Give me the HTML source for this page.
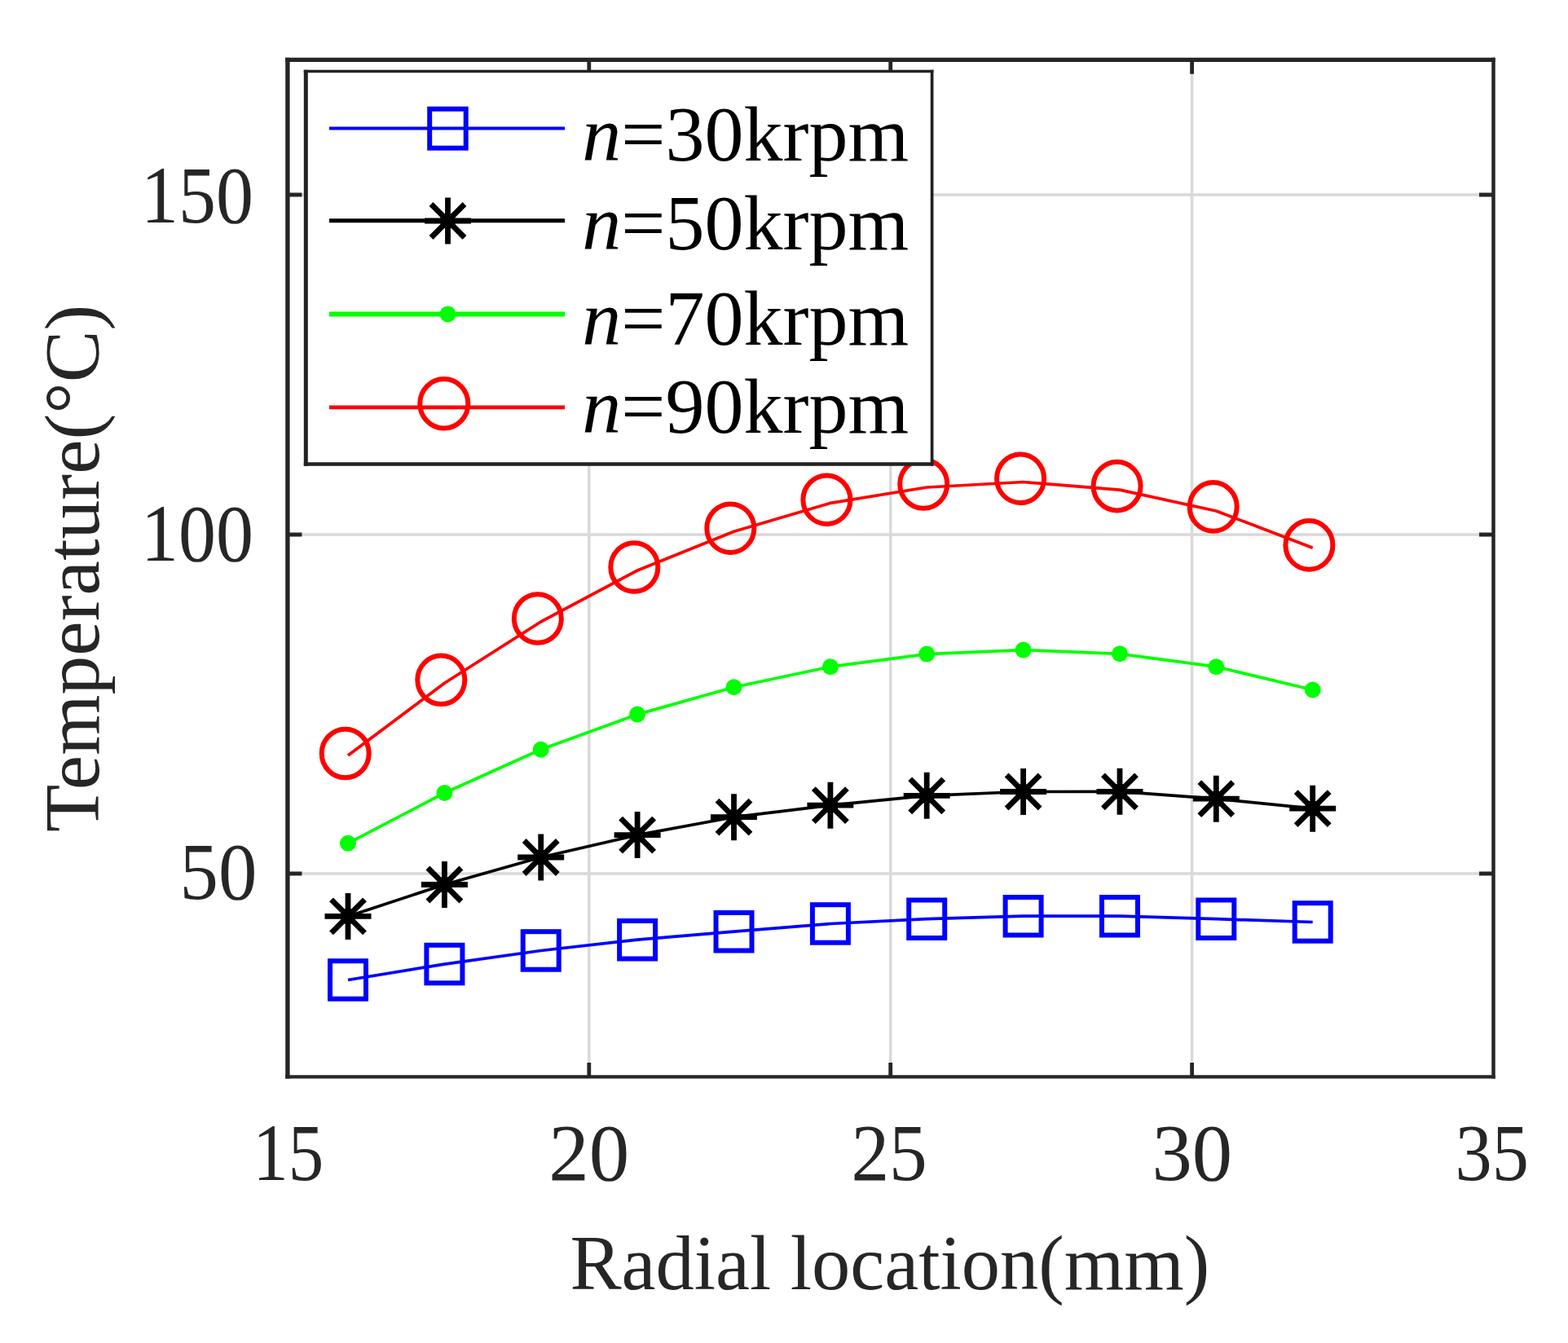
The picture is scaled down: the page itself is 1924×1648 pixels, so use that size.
<!DOCTYPE html>
<html><head><meta charset="utf-8"><title>Temperature vs Radial location</title><style>html,body{margin:0;padding:0;background:#fff;width:1924px;height:1648px;overflow:hidden}</style></head><body>
<svg width="1924" height="1648" viewBox="0 0 1924 1648" style="display:block">
<rect x="0" y="0" width="1924" height="1648" fill="#ffffff"/>
<path d="M722.8 73.3V1321.4 M1092.7 73.3V1321.4 M1462.6 73.3V1321.4 M352.9 1072.0H1832.5 M352.9 656.0H1832.5 M352.9 239.0H1832.5" stroke="#d9d9d9" stroke-width="3.5" fill="none"/>
<path d="M722.8 1321.4v-17.5M722.8 73.3v17.5 M1092.7 1321.4v-17.5M1092.7 73.3v17.5 M1462.6 1321.4v-17.5M1462.6 73.3v17.5 M352.9 1072.0h17.5M1832.5 1072.0h-17.5 M352.9 656.0h17.5M1832.5 656.0h-17.5 M352.9 239.0h17.5M1832.5 239.0h-17.5" stroke="#262626" stroke-width="4.8" fill="none"/>
<path d="M352.9 70.64999999999999V1323.6000000000001" stroke="#262626" stroke-width="5.4" fill="none"/>
<path d="M1832.5 70.64999999999999V1323.6000000000001" stroke="#262626" stroke-width="4.5" fill="none"/>
<path d="M350.2 73.3H1834.75" stroke="#262626" stroke-width="5.3" fill="none"/>
<path d="M350.2 1321.4H1834.75" stroke="#262626" stroke-width="4.4" fill="none"/>
<path d="M427.0 1202.5 L545.4 1183.1 L663.7 1166.5 L782.1 1153.2 L900.5 1143.2 L1018.9 1133.5 L1137.2 1127.7 L1255.6 1124.2 L1374.0 1124.2 L1492.3 1127.7 L1610.7 1131.5" stroke="#0000ff" stroke-width="3.7" fill="none" stroke-linejoin="round"/>
<path d="M427.0 1124.4 L545.4 1085.5 L663.7 1052.0 L782.1 1024.6 L900.5 1002.7 L1018.9 988.2 L1137.2 976.3 L1255.6 971.5 L1374.0 971.3 L1492.3 980.2 L1610.7 992.2" stroke="#000000" stroke-width="3.7" fill="none" stroke-linejoin="round"/>
<path d="M427.0 1034.8 L545.4 973.0 L663.7 919.8 L782.1 876.6 L900.5 843.3 L1018.9 818.2 L1137.2 802.6 L1255.6 797.6 L1374.0 802.3 L1492.3 818.2 L1610.7 846.5" stroke="#00ff00" stroke-width="3.7" fill="none" stroke-linejoin="round"/>
<path d="M427.0 927.0 L545.4 838.3 L663.7 763.0 L782.1 700.0 L900.5 652.2 L1018.9 617.3 L1137.2 598.0 L1255.6 591.5 L1374.0 601.1 L1492.3 627.0 L1610.7 672.2" stroke="#ff0000" stroke-width="3.7" fill="none" stroke-linejoin="round"/>
<rect x="405.0" y="1179.2" width="44" height="46.5" stroke="#0000ff" stroke-width="6" fill="none"/>
<rect x="523.4" y="1159.8" width="44" height="46.5" stroke="#0000ff" stroke-width="6" fill="none"/>
<rect x="641.7" y="1143.2" width="44" height="46.5" stroke="#0000ff" stroke-width="6" fill="none"/>
<rect x="760.1" y="1130.0" width="44" height="46.5" stroke="#0000ff" stroke-width="6" fill="none"/>
<rect x="878.5" y="1120.0" width="44" height="46.5" stroke="#0000ff" stroke-width="6" fill="none"/>
<rect x="996.9" y="1110.2" width="44" height="46.5" stroke="#0000ff" stroke-width="6" fill="none"/>
<rect x="1115.2" y="1104.5" width="44" height="46.5" stroke="#0000ff" stroke-width="6" fill="none"/>
<rect x="1233.6" y="1101.0" width="44" height="46.5" stroke="#0000ff" stroke-width="6" fill="none"/>
<rect x="1352.0" y="1101.0" width="44" height="46.5" stroke="#0000ff" stroke-width="6" fill="none"/>
<rect x="1470.3" y="1104.5" width="44" height="46.5" stroke="#0000ff" stroke-width="6" fill="none"/>
<rect x="1588.7" y="1108.2" width="44" height="46.5" stroke="#0000ff" stroke-width="6" fill="none"/>
<path d="M427.0 1095.9V1152.9M398.5 1124.4H455.5M406.5 1103.9L447.5 1144.9M406.5 1144.9L447.5 1103.9" stroke="#000" stroke-width="6.8" fill="none"/><rect x="418.0" y="1115.4" width="18" height="18" fill="#000"/>
<path d="M545.4 1057.0V1114.0M516.9 1085.5H573.9M524.9 1065.0L565.9 1106.0M524.9 1106.0L565.9 1065.0" stroke="#000" stroke-width="6.8" fill="none"/><rect x="536.4" y="1076.5" width="18" height="18" fill="#000"/>
<path d="M663.7 1023.5V1080.5M635.2 1052.0H692.2M643.2 1031.5L684.3 1072.5M643.2 1072.5L684.3 1031.5" stroke="#000" stroke-width="6.8" fill="none"/><rect x="654.7" y="1043.0" width="18" height="18" fill="#000"/>
<path d="M782.1 996.1V1053.1M753.6 1024.6H810.6M761.6 1004.1L802.6 1045.1M761.6 1045.1L802.6 1004.1" stroke="#000" stroke-width="6.8" fill="none"/><rect x="773.1" y="1015.6" width="18" height="18" fill="#000"/>
<path d="M900.5 974.2V1031.2M872.0 1002.7H929.0M880.0 982.2L921.0 1023.2M880.0 1023.2L921.0 982.2" stroke="#000" stroke-width="6.8" fill="none"/><rect x="891.5" y="993.7" width="18" height="18" fill="#000"/>
<path d="M1018.9 959.7V1016.7M990.4 988.2H1047.3M998.3 967.7L1039.4 1008.7M998.3 1008.7L1039.4 967.7" stroke="#000" stroke-width="6.8" fill="none"/><rect x="1009.9" y="979.2" width="18" height="18" fill="#000"/>
<path d="M1137.2 947.8V1004.8M1108.7 976.3H1165.7M1116.7 955.8L1157.7 996.8M1116.7 996.8L1157.7 955.8" stroke="#000" stroke-width="6.8" fill="none"/><rect x="1128.2" y="967.3" width="18" height="18" fill="#000"/>
<path d="M1255.6 943.0V1000.0M1227.1 971.5H1284.1M1235.1 951.0L1276.1 992.0M1235.1 992.0L1276.1 951.0" stroke="#000" stroke-width="6.8" fill="none"/><rect x="1246.6" y="962.5" width="18" height="18" fill="#000"/>
<path d="M1374.0 942.8V999.8M1345.5 971.3H1402.5M1353.4 950.8L1394.5 991.8M1353.4 991.8L1394.5 950.8" stroke="#000" stroke-width="6.8" fill="none"/><rect x="1365.0" y="962.3" width="18" height="18" fill="#000"/>
<path d="M1492.3 951.7V1008.7M1463.8 980.2H1520.8M1471.8 959.7L1512.8 1000.7M1471.8 1000.7L1512.8 959.7" stroke="#000" stroke-width="6.8" fill="none"/><rect x="1483.3" y="971.2" width="18" height="18" fill="#000"/>
<path d="M1610.7 963.7V1020.7M1582.2 992.2H1639.2M1590.2 971.7L1631.2 1012.7M1590.2 1012.7L1631.2 971.7" stroke="#000" stroke-width="6.8" fill="none"/><rect x="1601.7" y="983.2" width="18" height="18" fill="#000"/>
<circle cx="427.0" cy="1034.8" r="10" fill="#00ff00"/>
<circle cx="545.4" cy="973.0" r="10" fill="#00ff00"/>
<circle cx="663.7" cy="919.8" r="10" fill="#00ff00"/>
<circle cx="782.1" cy="876.6" r="10" fill="#00ff00"/>
<circle cx="900.5" cy="843.3" r="10" fill="#00ff00"/>
<circle cx="1018.9" cy="818.2" r="10" fill="#00ff00"/>
<circle cx="1137.2" cy="802.6" r="10" fill="#00ff00"/>
<circle cx="1255.6" cy="797.6" r="10" fill="#00ff00"/>
<circle cx="1374.0" cy="802.3" r="10" fill="#00ff00"/>
<circle cx="1492.3" cy="818.2" r="10" fill="#00ff00"/>
<circle cx="1610.7" cy="846.5" r="10" fill="#00ff00"/>
<ellipse cx="423.7" cy="924.5" rx="29" ry="29.8" stroke="#ff0000" stroke-width="6.0" fill="none"/>
<ellipse cx="541.3" cy="834.3" rx="29" ry="29.8" stroke="#ff0000" stroke-width="6.0" fill="none"/>
<ellipse cx="659.8" cy="759.0" rx="29" ry="29.8" stroke="#ff0000" stroke-width="6.0" fill="none"/>
<ellipse cx="778.3" cy="696.0" rx="29" ry="29.8" stroke="#ff0000" stroke-width="6.0" fill="none"/>
<ellipse cx="896.3" cy="648.2" rx="29" ry="29.8" stroke="#ff0000" stroke-width="6.0" fill="none"/>
<ellipse cx="1014.4" cy="613.2" rx="29" ry="29.8" stroke="#ff0000" stroke-width="6.0" fill="none"/>
<ellipse cx="1133.2" cy="594.0" rx="29" ry="29.8" stroke="#ff0000" stroke-width="6.0" fill="none"/>
<ellipse cx="1252.1" cy="587.2" rx="29" ry="29.8" stroke="#ff0000" stroke-width="6.0" fill="none"/>
<ellipse cx="1370.6" cy="596.6" rx="29" ry="29.8" stroke="#ff0000" stroke-width="6.0" fill="none"/>
<ellipse cx="1488.7" cy="621.9" rx="29" ry="29.8" stroke="#ff0000" stroke-width="6.0" fill="none"/>
<ellipse cx="1606.4" cy="668.9" rx="29" ry="29.8" stroke="#ff0000" stroke-width="6.0" fill="none"/>
<rect x="375.3" y="87.5" width="768.3" height="482.0" fill="#ffffff"/>
<path d="M375.3 85.8V571.75" stroke="#222222" stroke-width="5.0" fill="none"/>
<path d="M1143.6 85.8V571.75" stroke="#222222" stroke-width="3.7" fill="none"/>
<path d="M372.8 87.5H1145.4499999999998" stroke="#222222" stroke-width="3.4" fill="none"/>
<path d="M372.8 569.5H1145.4499999999998" stroke="#222222" stroke-width="4.5" fill="none"/>
<path d="M404 157.5H693" stroke="#0000ff" stroke-width="4.0" fill="none"/>
<path d="M404 270.8H693" stroke="#000000" stroke-width="5.0" fill="none"/>
<path d="M404 385.4H693" stroke="#00ff00" stroke-width="6.0" fill="none"/>
<path d="M404 499.9H693" stroke="#ff0000" stroke-width="4.8" fill="none"/>
<rect x="527.2" y="133.7" width="44.5" height="48" stroke="#0000ff" stroke-width="6" fill="none"/>
<path d="M549.5 242.5V299.5M521.0 271.0H578.0M529.0 250.5L570.0 291.5M529.0 291.5L570.0 250.5" stroke="#000" stroke-width="6.8" fill="none"/><rect x="540.5" y="262.0" width="18" height="18" fill="#000"/>
<circle cx="549.5" cy="385.4" r="10" fill="#00ff00"/>
<ellipse cx="544.8" cy="495.3" rx="29.5" ry="30.2" stroke="#ff0000" stroke-width="6.0" fill="none"/>
<text x="714.3" y="196.5" font-family='"Liberation Serif","Times New Roman",serif' font-size="96" fill="#000"><tspan font-style="italic">n</tspan>=30krpm</text>
<text x="714.3" y="306.0" font-family='"Liberation Serif","Times New Roman",serif' font-size="96" fill="#000"><tspan font-style="italic">n</tspan>=50krpm</text>
<text x="714.3" y="422.7" font-family='"Liberation Serif","Times New Roman",serif' font-size="96" fill="#000"><tspan font-style="italic">n</tspan>=70krpm</text>
<text x="714.3" y="531.0" font-family='"Liberation Serif","Times New Roman",serif' font-size="96" fill="#000"><tspan font-style="italic">n</tspan>=90krpm</text>
<text x="310.2" y="1448.3" textLength="86.9" lengthAdjust="spacingAndGlyphs" font-family='"Liberation Serif","Times New Roman",serif' font-size="99" fill="#262626">15</text>
<text x="673.2" y="1448.3" textLength="99.0" lengthAdjust="spacingAndGlyphs" font-family='"Liberation Serif","Times New Roman",serif' font-size="99" fill="#262626">20</text>
<text x="1044.4" y="1448.3" textLength="93.3" lengthAdjust="spacingAndGlyphs" font-family='"Liberation Serif","Times New Roman",serif' font-size="99" fill="#262626">25</text>
<text x="1413.5" y="1448.3" textLength="98.7" lengthAdjust="spacingAndGlyphs" font-family='"Liberation Serif","Times New Roman",serif' font-size="99" fill="#262626">30</text>
<text x="1785.6" y="1448.3" textLength="90.4" lengthAdjust="spacingAndGlyphs" font-family='"Liberation Serif","Times New Roman",serif' font-size="99" fill="#262626">35</text>
<text x="173.1" y="272.8" textLength="137.9" lengthAdjust="spacingAndGlyphs" font-family='"Liberation Serif","Times New Roman",serif' font-size="99" fill="#262626">150</text>
<text x="173.1" y="687.8" textLength="137.9" lengthAdjust="spacingAndGlyphs" font-family='"Liberation Serif","Times New Roman",serif' font-size="99" fill="#262626">100</text>
<text x="220.5" y="1103.4" textLength="94.8" lengthAdjust="spacingAndGlyphs" font-family='"Liberation Serif","Times New Roman",serif' font-size="99" fill="#262626">50</text>
<text x="699.5" y="1582.3" font-family='"Liberation Serif","Times New Roman",serif' font-size="94.5" fill="#262626">Radial location(mm)</text>
<text transform="translate(120.7 1021) rotate(-90)" x="0" y="0" font-family='"Liberation Serif","Times New Roman",serif' font-size="95.6" fill="#262626">Temperature(°C)</text>
</svg>
</body></html>
